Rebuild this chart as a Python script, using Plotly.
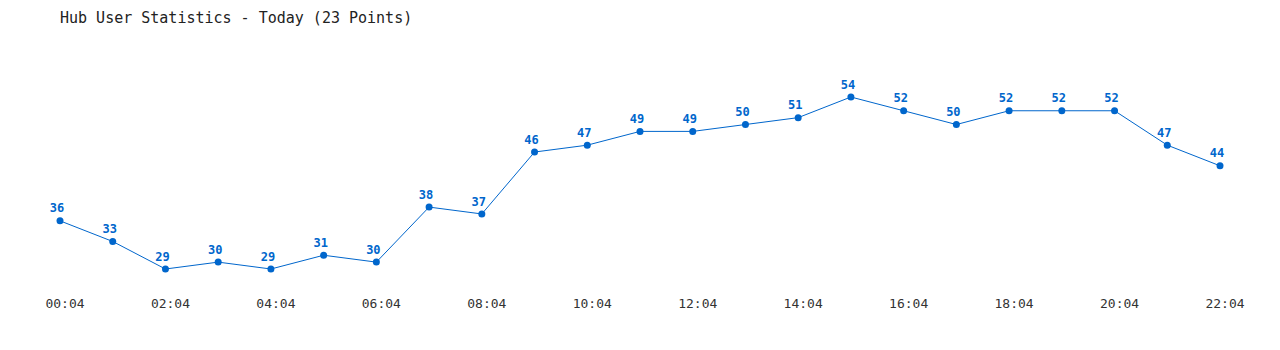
import plotly.graph_objects as go

times = ["00:04","01:04","02:04","03:04","04:04","05:04","06:04","07:04","08:04","09:04","10:04","11:04",
         "12:04","13:04","14:04","15:04","16:04","17:04","18:04","19:04","20:04","21:04","22:04"]
users = [36,33,29,30,29,31,30,38,37,46,47,49,49,50,51,54,52,50,52,52,52,47,44]
tick_labels = times[::2]

W, H = 1280, 350
x_idx = list(range(len(times)))
px_per = (1220 - 60) / 22
blue = "#0066cc"
mono = "DejaVu Sans Mono"

fig = go.Figure()
fig.add_trace(go.Scatter(
    x=x_idx, y=users, mode="lines+markers",
    line=dict(color=blue, width=1),
    marker=dict(color=blue, size=7),
    cliponaxis=False, hoverinfo="skip"))
fig.add_trace(go.Scatter(
    x=[i - 3 / px_per for i in x_idx], y=users, mode="markers+text",
    marker=dict(size=7, opacity=0),
    text=[str(v) for v in users], textposition="top center",
    textfont=dict(family=mono, size=12, color=blue, weight="bold"),
    cliponaxis=False, hoverinfo="skip"))

plot_h = 290
ppu = (269 - 97) / 25
ylo = 29 - (plot_h - 269) / ppu
yhi = 29 + 269 / ppu

fig.update_layout(
    width=W, height=H, margin=dict(l=0, r=0, t=0, b=H - plot_h),
    paper_bgcolor="white", plot_bgcolor="white", showlegend=False,
    title=dict(text="Hub User Statistics - Today (23 Points)", x=60 / W, xanchor="left",
               y=1 - 18 / H, yanchor="middle", xref="paper", yref="container",
               font=dict(family=mono, size=15, color="#222")),
    xaxis=dict(range=[-60 / px_per, 22 + 60 / px_per], tickmode="array",
               tickvals=[i + 5 / px_per for i in x_idx[::2]], ticktext=tick_labels,
               showgrid=False, zeroline=False, showline=False, ticks="",
               ticklabelstandoff=4,
               tickfont=dict(family=mono, size=13, color="#333")),
    yaxis=dict(range=[ylo, yhi], visible=False),
)
fig.write_html("out.html")
